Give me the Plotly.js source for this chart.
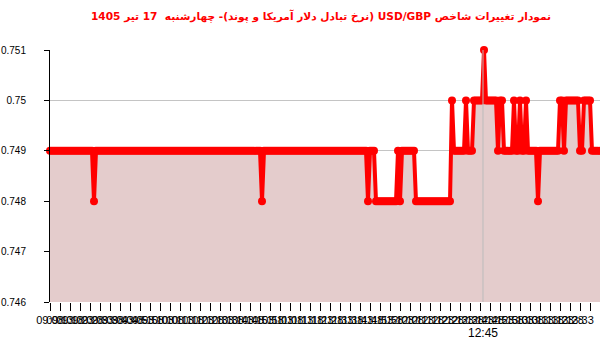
<!DOCTYPE html>
<html>
<head>
<meta charset="utf-8">
<script src="https://cdn.plot.ly/plotly-3.0.1.min.js"></script>
<style>html,body{margin:0;padding:0;background:#fff;}#chart{width:600px;height:352px;}</style>
</head>
<body>
<div id="chart"></div>
<script>
// Series values, one per sampled point (index order)
var values = [
0.749,0.749,0.749,0.749,0.749,0.749,0.749,0.749,0.749,0.749,
0.749,0.749,0.749,0.749,0.749,0.749,0.749,0.749,0.749,0.749,
0.749,0.749,0.748,0.749,0.749,0.749,0.749,0.749,0.749,0.749,
0.749,0.749,0.749,0.749,0.749,0.749,0.749,0.749,0.749,0.749,
0.749,0.749,0.749,0.749,0.749,0.749,0.749,0.749,0.749,0.749,
0.749,0.749,0.749,0.749,0.749,0.749,0.749,0.749,0.749,0.749,
0.749,0.749,0.749,0.749,0.749,0.749,0.749,0.749,0.749,0.749,
0.749,0.749,0.749,0.749,0.749,0.749,0.749,0.749,0.749,0.749,
0.749,0.749,0.749,0.749,0.749,0.749,0.749,0.749,0.749,0.749,
0.749,0.749,0.749,0.749,0.749,0.749,0.749,0.749,0.749,0.749,
0.749,0.749,0.749,0.749,0.749,0.749,0.748,0.749,0.749,0.749,
0.749,0.749,0.749,0.749,0.749,0.749,0.749,0.749,0.749,0.749,
0.749,0.749,0.749,0.749,0.749,0.749,0.749,0.749,0.749,0.749,
0.749,0.749,0.749,0.749,0.749,0.749,0.749,0.749,0.749,0.749,
0.749,0.749,0.749,0.749,0.749,0.749,0.749,0.749,0.749,0.749,
0.749,0.749,0.749,0.749,0.749,0.749,0.749,0.749,0.749,0.748,
0.749,0.749,0.749,0.748,0.748,0.748,0.748,0.748,0.748,0.748,
0.748,0.748,0.748,0.748,0.749,0.748,0.749,0.749,0.749,0.749,
0.749,0.749,0.749,0.748,0.748,0.748,0.748,0.748,0.748,0.748,
0.748,0.748,0.748,0.748,0.748,0.748,0.748,0.748,0.748,0.748,
0.748,0.750,0.749,0.749,0.749,0.749,0.749,0.749,0.750,0.749,
0.749,0.749,0.750,0.750,0.750,0.750,0.750,0.751,0.750,0.750,
0.750,0.750,0.750,0.750,0.749,0.750,0.750,0.749,0.749,0.749,
0.749,0.749,0.750,0.749,0.749,0.750,0.749,0.749,0.750,0.749,
0.749,0.749,0.749,0.749,0.748,0.749,0.749,0.749,0.749,0.749,
0.749,0.749,0.749,0.749,0.749,0.750,0.750,0.749,0.750,0.750,
0.750,0.750,0.750,0.750,0.750,0.749,0.749,0.750,0.750,0.750,
0.750,0.749,0.749,0.749,0.749,0.749
];
var xIdx = values.map(function(v, i){ return i; });

// Tick labels (one every 5 points)
var tickLabels = ["09:08","09:13","09:18","09:23","09:28","09:33","09:38","09:43","09:48","09:53",
"09:58","10:03","10:08","10:13","10:18","10:23","10:28","10:33","10:38","10:43",
"10:48","10:53","10:58","11:03","11:08","11:13","11:18","11:23","11:28","11:33",
"11:38","11:43","11:48","11:53","11:58","12:03","12:08","12:13","12:18","12:23",
"12:28","12:33","12:38","12:43","12:48","12:53","12:58","13:03","13:08","13:13",
"13:18","13:23","13:28","13:33","13:38","13:43"];
var tickPositions = tickLabels.map(function(t, k){ return k * 5; });

var markerLabel = "12:45";
var markerPos = 216.5;
var yTicks = [0.746, 0.747, 0.748, 0.749, 0.75, 0.751];
var yTickText = ["0.746", "0.747", "0.748", "0.749", "0.75", "0.751"];

var titleText = "نمودار تغییرات شاخص USD/GBP (نرخ تبادل دلار آمریکا و پوند)- چهارشنبه  17 تیر 1405";

var trace = {
  x: xIdx, y: values, type: 'scatter', mode: 'lines+markers',
  line: {color: '#ff0000', width: 4},
  marker: {color: '#ff0000', size: 8},
  fill: 'tozeroy', fillcolor: 'rgba(228,204,204,1)',
  cliponaxis: false, hoverinfo: 'skip'
};

var layout = {
  width: 600, height: 352,
  margin: {l: 50, r: 0, t: 50, b: 50},
  paper_bgcolor: '#fff', plot_bgcolor: '#fff',
  showlegend: false,
  title: {text: '\u202B' + titleText + '\u202C', x: 0.535, xanchor: 'center', y: 0.955, yanchor: 'middle',
          font: {family: 'DejaVu Sans', size: 10.6, color: '#ff0000', weight: 'bold'}},
  xaxis: {
    range: [0, 275], showgrid: false, zeroline: false, showline: false,
    tickmode: 'array', tickvals: tickPositions, ticktext: tickLabels,
    ticks: 'outside', ticklen: 8, tickcolor: '#000', tickwidth: 1,
    tickangle: 0,
    tickfont: {family: 'Liberation Sans, sans-serif', size: 11, color: '#000'}
  },
  yaxis: {
    range: [0.746, 0.751], showgrid: true, gridcolor: '#c4c4c4', gridwidth: 1,
    zeroline: false, showline: true, linecolor: '#000', linewidth: 1,
    tickmode: 'array', tickvals: yTicks, ticktext: yTickText,
    ticks: 'outside', ticklen: 5, tickcolor: '#000', ticklabelstandoff: 16,
    tickfont: {family: 'Liberation Sans, sans-serif', size: 10, color: '#000'}
  },
  shapes: [{type: 'line', xref: 'x', yref: 'paper', x0: markerPos, x1: markerPos, y0: 0, y1: 1,
            line: {color: '#bbbbbb', width: 1}, layer: 'above'}],
  annotations: [{xref: 'x', yref: 'paper', x: markerPos, y: 0, yshift: -22, yanchor: 'top',
                 text: markerLabel, showarrow: false,
                 font: {family: 'Liberation Sans, sans-serif', size: 12, color: '#000'}}]
};

Plotly.newPlot('chart', [trace], layout, {displayModeBar: false, staticPlot: true});
</script>
</body>
</html>
